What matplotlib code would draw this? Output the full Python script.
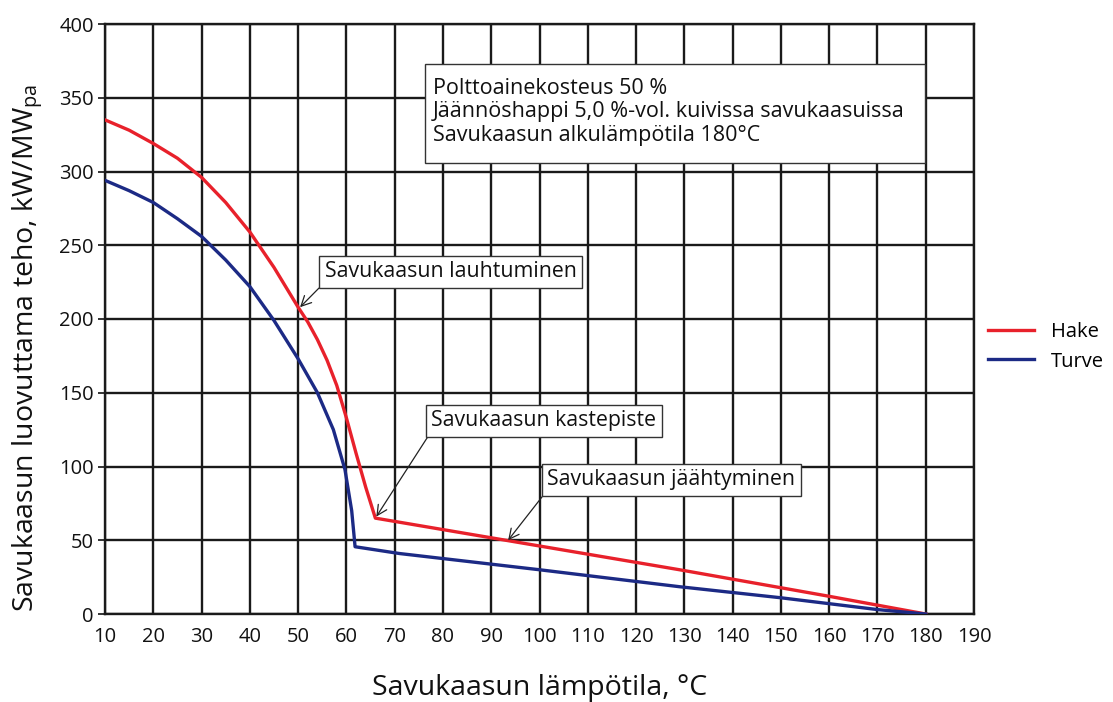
import matplotlib
matplotlib.use("Agg")
import matplotlib.pyplot as plt
from matplotlib.patches import Rectangle

# ---- data ----
hake_x = [10, 15, 20, 25, 30, 35, 40, 45, 50, 52, 54, 56, 58, 60, 62, 64, 66, 93, 129, 160, 180]
hake_y = [335, 328, 319, 309, 296, 279, 259, 235, 208, 198, 186, 172, 155, 133, 109, 86, 65, 50, 30, 12, 0]

turve_x = [10, 15, 20, 25, 30, 35, 40, 45, 50, 54, 57.3, 59.7, 61.1, 61.8, 71, 100, 114.6, 129, 150, 170, 180]
turve_y = [294, 287, 279, 268, 256, 240, 222, 199, 173, 150, 125, 98, 70, 45.6, 41, 30, 24.2, 18.5, 11, 3, 0]

series_names = ["Hake", "Turve"]
x_ticks = list(range(10, 191, 10))
y_ticks = list(range(0, 401, 50))

info_lines = ["Polttoainekosteus 50 %",
              "Jäännöshappi 5,0 %-vol. kuivissa savukaasuissa",
              "Savukaasun alkulämpötila 180°C"]
ann_texts = ["Savukaasun lauhtuminen", "Savukaasun kastepiste", "Savukaasun jäähtyminen"]
ann_targets = [(50.4, 208), (66.2, 66), (93.5, 50)]
ann_boxes = [(55.5, 232), (77.6, 131), (101.6, 91)]

xlabel = "Savukaasun lämpötila, °C"
ylabel = "Savukaasun luovuttama teho, kW/MW$_{\\mathrm{pa}}$"

# ---- style ----
plt.rcParams["font.family"] = ["Open Sans", "DejaVu Sans"]
plt.rcParams["mathtext.fontset"] = "custom"
plt.rcParams["mathtext.rm"] = "Open Sans"
plt.rcParams["mathtext.it"] = "Open Sans"

fig = plt.figure(figsize=(11.13, 7.02), dpi=100)
ax = fig.add_axes([105 / 1113, 1 - 614 / 702, (974 - 105) / 1113, (614 - 24) / 702])

grid_col = "#1a1a1a"
ax.set_xlim(10, 190)
ax.set_ylim(0, 400)
ax.set_xticks(x_ticks)
ax.set_yticks(y_ticks)
ax.grid(True, color=grid_col, linewidth=1.7)
ax.set_axisbelow(True)
for s in ax.spines.values():
    s.set_color(grid_col)
    s.set_linewidth(1.7)
ax.tick_params(axis="x", length=0, pad=9, labelsize=14.5, colors="#111111")
ax.tick_params(axis="y", length=5, width=1.2, pad=3, labelsize=14.5, colors="#111111")

l1, = ax.plot(hake_x, hake_y, color="#e8212b", linewidth=2.4, label=series_names[0], zorder=3)
l2, = ax.plot(turve_x, turve_y, color="#1c2a85", linewidth=2.4, label=series_names[1], zorder=3)

# info box
ax.add_patch(Rectangle((76.3, 305.8), 179.8 - 76.3, 372.9 - 305.8, facecolor="white",
                       edgecolor="#333333", linewidth=1.0, zorder=4))
ax.text(77.9, 340.5, "\n".join(info_lines), fontsize=15.5, color="#111111",
        va="center", ha="left", linespacing=1.17, zorder=5)

# annotations
for txt, tgt, box in zip(ann_texts, ann_targets, ann_boxes):
    ax.annotate(txt, xy=tgt, xytext=box, fontsize=15.3, color="#111111",
                va="center", ha="left", zorder=5,
                bbox=dict(boxstyle="square,pad=0.25", facecolor="white", edgecolor="#333333", linewidth=1.0),
                arrowprops=dict(arrowstyle="->", color="#222222", linewidth=0.9,
                                mutation_scale=18, relpos=(0.0, 0.0), shrinkA=0, shrinkB=0))

fig.legend(handles=[l1, l2], loc="center left", bbox_to_anchor=(970 / 1113, 1 - 347 / 702),
           frameon=False, fontsize=14.5, handlelength=2.3, handletextpad=0.8, labelspacing=0.45)

fig.text(540 / 1113, 1 - 688 / 702, xlabel, fontsize=20.5, ha="center", va="center", color="#111111")
fig.text(28 / 1113, 1 - 348 / 702, ylabel, fontsize=20.5, ha="center", va="center",
         rotation=90, color="#111111")

fig.savefig("out.png", dpi=100)
